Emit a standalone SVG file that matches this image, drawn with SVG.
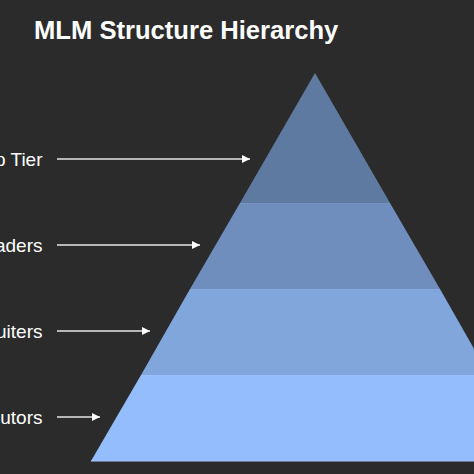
<svg xmlns="http://www.w3.org/2000/svg" width="474" height="474" viewBox="0 0 474 474">
<defs>
<style>
.title{font-family:"Liberation Sans",Arial,sans-serif;font-size:25.6px;font-weight:bold;fill:#ffffff}
.lbl{font-family:"Liberation Sans",Arial,sans-serif;font-size:19px;fill:#ffffff;text-anchor:end}
.arr{stroke:#e6e6e6;stroke-width:1.5;fill:none;marker-end:url(#ah)}
</style>
<marker id="ah" markerWidth="10" markerHeight="10" refX="8" refY="4" orient="auto" markerUnits="userSpaceOnUse">
<path d="M0,0 L8,4 L0,8 Z" fill="#ffffff"/>
</marker>
</defs>
<rect width="474" height="474" fill="#2b2b2b"/>
<text class="title" x="34" y="39">MLM Structure Hierarchy</text>
<g id="layer-top"><polygon points="315,73 390,203 240,203" fill="#5f7aa0"/></g>
<g id="layer-leaders"><polygon points="240,203 390,203 440,289 190,289" fill="#6f8dbd"/><line x1="240" y1="203.5" x2="390" y2="203.5" stroke="#7392c4" stroke-width="1"/></g>
<g id="layer-recruiters"><polygon points="190,289 440,289 489,375 141,375" fill="#80a6dc"/><line x1="190" y1="289.5" x2="440" y2="289.5" stroke="#84a9df" stroke-width="1"/></g>
<g id="layer-distributors"><polygon points="141,375 489,375 539,461 91,461" fill="#93bdfc"/><line x1="141" y1="375.5" x2="489" y2="375.5" stroke="#98c0fc" stroke-width="1"/><line x1="91" y1="461" x2="539" y2="461" stroke="#a8c8f8" stroke-width="1"/></g>
<g id="labels">
<text class="lbl" x="42.5" y="166">Top Tier</text>
<text class="lbl" x="42.5" y="252">Leaders</text>
<text class="lbl" x="42.5" y="338">Recruiters</text>
<text class="lbl" x="42.5" y="424">Distributors</text>
</g>
<g id="connectors">
<line class="arr" x1="57" y1="159" x2="250" y2="159"/>
<line class="arr" x1="57" y1="245" x2="200" y2="245"/>
<line class="arr" x1="57" y1="331" x2="150" y2="331"/>
<line class="arr" x1="57" y1="417" x2="100" y2="417"/>
</g>
</svg>
